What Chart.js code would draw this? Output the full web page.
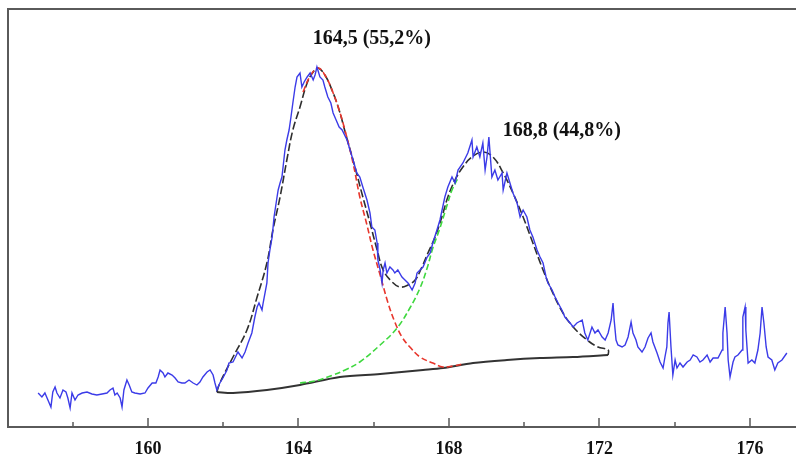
<!DOCTYPE html>
<html>
<head>
<meta charset="utf-8">
<script src="https://cdn.jsdelivr.net/npm/chart.js@4"></script>
<style>
  body { margin: 0; background: #fff; }
  canvas { display: block; }
</style>
</head>
<body>
<canvas id="xpsChart" width="796" height="457"></canvas>
<script>
// binding energy (eV) / intensity (arb. units)
const spectrumE = [157.08,157.18,157.26,157.34,157.42,157.47,157.53,157.58,157.66,157.74,157.82,157.87,157.93,157.98,158.06,158.14,158.25,158.38,158.51,158.64,158.78,158.91,158.99,159.07,159.12,159.18,159.26,159.31,159.36,159.44,159.50,159.57,159.65,159.79,159.92,160.00,160.11,160.21,160.27,160.32,160.40,160.45,160.53,160.64,160.72,160.80,160.90,160.98,161.09,161.20,161.30,161.38,161.46,161.57,161.65,161.73,161.78,161.83,161.91,161.99,162.10,162.15,162.26,162.39,162.50,162.58,162.66,162.76,162.84,162.90,162.95,163.03,163.06,163.16,163.19,163.24,163.30,163.35,163.43,163.46,163.51,163.56,163.59,163.64,163.69,163.75,163.80,163.85,163.91,163.96,164.04,164.09,164.15,164.23,164.31,164.39,164.44,164.49,164.57,164.65,164.70,164.78,164.86,164.92,165.00,165.08,165.16,165.29,165.45,165.55,165.63,165.71,165.82,165.90,165.95,166.03,166.09,166.11,166.17,166.22,166.25,166.30,166.35,166.43,166.51,166.56,166.64,166.75,166.83,166.91,167.02,167.10,167.15,167.23,167.31,167.42,167.50,167.57,167.68,167.76,167.89,167.97,168.08,168.16,168.24,168.37,168.50,168.61,168.64,168.74,168.82,168.90,168.96,169.01,169.06,169.14,169.22,169.30,169.41,169.44,169.54,169.62,169.70,169.81,169.89,169.97,170.07,170.15,170.23,170.34,170.42,170.50,170.58,170.63,170.74,170.82,170.90,171.00,171.08,171.22,171.30,171.40,171.54,171.61,171.69,171.80,171.88,171.96,172.07,172.15,172.23,172.31,172.36,172.39,172.44,172.49,172.60,172.68,172.76,172.84,172.89,172.97,173.02,173.13,173.21,173.29,173.37,173.42,173.53,173.61,173.69,173.74,173.79,173.82,173.85,173.90,173.95,174.01,174.06,174.14,174.22,174.33,174.41,174.49,174.59,174.67,174.75,174.86,174.94,175.02,175.15,175.26,175.28,175.34,175.39,175.42,175.47,175.55,175.60,175.68,175.79,175.81,175.87,175.89,175.95,176.05,176.13,176.21,176.27,176.32,176.37,176.43,176.48,176.58,176.66,176.74,176.85,176.98];
const spectrumI = [34,30,34,27,20,35,40,34,29,37,35,29,19,34,27,32,34,35,33,32,33,34,37,39,32,34,29,20,37,47,42,35,34,33,34,39,44,44,50,57,54,50,54,52,49,45,44,44,47,44,42,45,50,55,57,52,44,37,44,49,57,64,65,75,69,75,84,94,110,120,124,117,124,144,164,177,190,210,230,237,244,250,260,277,287,297,310,324,340,350,354,340,345,350,354,347,352,360,350,347,340,330,324,314,307,300,297,287,267,254,250,240,227,214,200,197,184,167,157,144,157,164,154,160,157,154,157,150,147,144,137,144,154,157,160,170,174,184,197,207,230,240,250,244,257,264,274,287,270,280,270,284,257,270,290,250,257,247,254,237,254,244,234,224,210,217,210,197,190,177,170,164,150,144,137,130,124,117,110,104,100,104,107,94,87,100,94,97,90,87,94,107,124,107,87,82,80,82,90,105,94,87,80,75,80,89,94,85,74,65,59,70,80,104,115,80,52,67,59,64,60,65,67,72,70,65,67,72,65,69,69,77,94,120,94,67,50,65,70,72,77,110,120,97,64,67,64,77,94,120,104,80,70,67,57,64,67,74];

const envelopeE = [161.83,161.91,162.26,162.63,162.90,163.16,163.32,163.51,163.69,163.85,164.04,164.23,164.39,164.52,164.70,164.89,165.08,165.24,165.50,165.71,165.90,166.09,166.25,166.49,166.70,166.91,167.10,167.28,167.44,167.63,167.81,167.97,168.16,168.37,168.61,168.90,169.17,169.44,169.70,169.97,170.23,170.50,170.76,171.03,171.30,171.67,171.96,172.23,172.23];
const envelopeI = [35,44,70,97,130,164,197,230,267,297,320,344,355,359,352,337,317,295,260,230,204,177,157,145,140,142,147,160,174,190,210,230,247,260,270,275,270,254,234,210,184,157,134,114,100,87,80,77,72];

const peak1E = [164.12,164.31,164.52,164.70,164.89,165.08,165.24,165.45,165.63,165.82,165.98,166.17,166.38,166.56,166.75,166.96,167.23,167.57,167.84,168.11,168.37];
const peak1I = [335,351,359,352,337,317,296,264,230,202,177,152,124,105,90,80,70,64,60,61,63];

const peak2E = [164.04,164.44,164.92,165.24,165.63,166.17,166.62,166.96,167.23,167.42,167.57,167.76,167.95,168.08,168.24];
const peak2I = [44,46,52,57,65,82,99,119,139,159,179,199,222,237,249];

const backgroundE = [161.83,162.26,163.16,164.04,165.10,166.17,167.31,167.84,168.64,169.54,170.42,171.30,172.23];
const backgroundI = [35,34,37,42,50,53,57,59,64,67,69,70,72];

const tickLabels = [160, 164, 168, 172, 176];
const minorTicks = [158, 162, 166, 170, 174];

const peakLabels = ["164,5 (55,2%)", "168,8 (44,8%)"];
const peakLabelAt = [[165.95, 388], [171.0, 296]];

function toPoints(xs, ys) {
    return xs.map((x, i) => ({ x: x, y: ys[i] }));
}

const frameAndTicks = {
    id: "frameAndTicks",
    afterDraw(chart) {
        const ctx = chart.ctx;
        const area = chart.chartArea;
        const xScale = chart.scales.x;
        const yScale = chart.scales.y;
        ctx.save();
        ctx.strokeStyle = "#5a5a5a";
        ctx.lineWidth = 2;
        ctx.beginPath();
        ctx.moveTo(area.left, area.bottom);
        ctx.lineTo(area.left, area.top);
        ctx.lineTo(area.right + 2, area.top);
        ctx.stroke();

        ctx.lineWidth = 1.5;
        ctx.beginPath();
        tickLabels.forEach(v => {
            const px = Math.round(xScale.getPixelForValue(v));
            ctx.moveTo(px, area.bottom);
            ctx.lineTo(px, area.bottom - 9);
        });
        minorTicks.forEach(v => {
            const px = Math.round(xScale.getPixelForValue(v));
            ctx.moveTo(px, area.bottom);
            ctx.lineTo(px, area.bottom - 5);
        });
        ctx.stroke();

        ctx.fillStyle = "#111";
        ctx.font = "bold 20px 'Liberation Serif', 'Times New Roman', serif";
        ctx.textAlign = "center";
        ctx.textBaseline = "middle";
        peakLabels.forEach((text, i) => {
            const px = xScale.getPixelForValue(peakLabelAt[i][0]);
            const py = yScale.getPixelForValue(peakLabelAt[i][1]);
            ctx.fillText(text, px, py);
        });
        ctx.restore();
    }
};

const ctx = document.getElementById("xpsChart").getContext("2d");

const xpsChart = new Chart(ctx, {
    type: "line",
    data: {
        datasets: [
            {
                label: "spectrum",
                data: toPoints(spectrumE, spectrumI),
                borderColor: "#3b3be8",
                borderWidth: 1.4,
                order: 0
            },
            {
                label: "component 1",
                data: toPoints(peak1E, peak1I),
                borderColor: "#e8362c",
                borderWidth: 1.6,
                borderDash: [6, 3],
                tension: 0.4,
                order: 1
            },
            {
                label: "component 2",
                data: toPoints(peak2E, peak2I),
                borderColor: "#3fd83f",
                borderWidth: 1.6,
                borderDash: [6, 3],
                tension: 0.4,
                order: 2
            },
            {
                label: "envelope",
                data: toPoints(envelopeE, envelopeI),
                borderColor: "#2e2e2e",
                borderWidth: 1.6,
                borderDash: [8, 3],
                tension: 0.4,
                order: 3
            },
            {
                label: "background",
                data: toPoints(backgroundE, backgroundI),
                borderColor: "#333",
                borderWidth: 2,
                tension: 0.3,
                order: 4
            }
        ]
    },
    options: {
        responsive: false,
        animation: false,
        parsing: false,
        layout: { padding: { left: 8, top: 9, right: 0, bottom: 0 } },
        elements: { point: { radius: 0 }, line: { fill: false } },
        plugins: {
            legend: { display: false },
            tooltip: { enabled: false }
        },
        scales: {
            x: {
                type: "linear",
                min: 156.279,
                max: 177.223,
                afterBuildTicks(scale) {
                    scale.ticks = tickLabels.map(v => ({ value: v }));
                },
                afterFit(scale) {
                    scale.height = 30;
                },
                grid: { display: false },
                border: { display: true, color: "#5a5a5a", width: 2 },
                ticks: {
                    padding: 4,
                    color: "#111",
                    maxRotation: 0,
                    autoSkip: false,
                    font: { family: "'Liberation Serif', 'Times New Roman', serif", size: 18, weight: "bold" },
                    callback: v => String(v)
                }
            },
            y: {
                display: false,
                min: 0,
                max: 418
            }
        }
    },
    plugins: [frameAndTicks]
});
</script>
</body>
</html>
